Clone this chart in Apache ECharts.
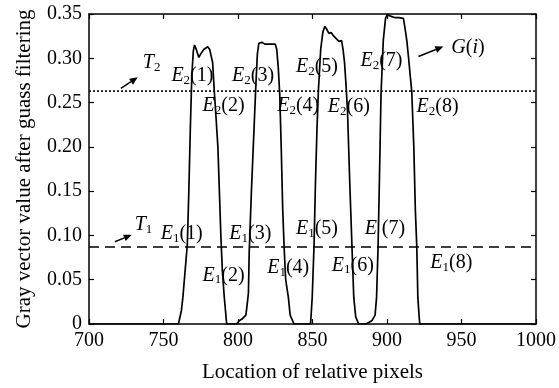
<!DOCTYPE html>
<html>
<head>
<meta charset="utf-8">
<script src="https://cdn.jsdelivr.net/npm/echarts@6/dist/echarts.min.js"></script>
<style>
  html, body { margin: 0; padding: 0; background: #fff; }
  #chart { width: 559px; height: 388px; }
</style>
</head>
<body>
<div id="chart"></div>
<script>
// gray vector G(i) after gauss filtering
const pixelPos = [700, 760, 762, 763, 765, 766, 767, 768, 769, 770, 770.8, 772, 773.7, 775, 777, 779.7, 781, 783, 784, 785, 786.5, 787.5, 788.5, 789.5, 790.8, 792.4,
  799, 801, 803, 805.3, 806, 807, 807.5, 809, 811, 812, 813, 814, 816, 818, 822, 825, 826, 827, 828, 829, 830, 831, 832, 833.8, 835, 837.6,
  848.7, 849.8, 851, 852, 853, 854, 855.5, 857, 858.3, 859.5, 861, 862.5, 864.3, 865.5, 867.7, 869.5, 870.5, 871.5, 872.5, 873.5, 875, 876.5, 877.7, 879, 881,
  886, 890, 892, 893, 894, 895, 896, 897.5, 899, 900, 901, 905, 908, 911, 912, 913.3, 914.5, 915.6, 916.6, 918, 919, 920, 920.7, 921.5, 922, 1000];
const grayValue = [0, 0, 0.015, 0.03, 0.07, 0.09, 0.15, 0.22, 0.28, 0.308, 0.315, 0.31, 0.301, 0.305, 0.31, 0.313, 0.31, 0.295, 0.265, 0.24, 0.2, 0.15, 0.1, 0.06, 0.03, 0,
  0, 0.004, 0.006, 0.01, 0.02, 0.035, 0.08, 0.15, 0.23, 0.27, 0.305, 0.317, 0.318, 0.316, 0.316, 0.316, 0.31, 0.29, 0.26, 0.2, 0.13, 0.085, 0.05, 0.03, 0.01, 0,
  0, 0.03, 0.087, 0.16, 0.22, 0.265, 0.31, 0.33, 0.336, 0.333, 0.328, 0.329, 0.325, 0.326, 0.319, 0.32, 0.31, 0.295, 0.27, 0.24, 0.16, 0.087, 0.03, 0.008, 0,
  0, 0.004, 0.01, 0.03, 0.087, 0.17, 0.26, 0.32, 0.345, 0.349, 0.347, 0.346, 0.346, 0.345, 0.335, 0.32, 0.3, 0.28, 0.263, 0.2, 0.13, 0.087, 0.03, 0.01, 0, 0];

const thresholdT1 = 0.087;
const thresholdT2 = 0.263;

// text annotations: [x, y, main letter, subscript, suffix]
const notes = [
  [736.1, 0.295, 'T', '2', ''],
  [755.3, 0.280, 'E', '2', '(1)'],
  [796.0, 0.280, 'E', '2', '(3)'],
  [776.2, 0.246, 'E', '2', '(2)'],
  [826.3, 0.246, 'E', '2', '(4)'],
  [838.9, 0.290, 'E', '2', '(5)'],
  [882.2, 0.297, 'E', '2', '(7)'],
  [860.3, 0.245, 'E', '2', '(6)'],
  [919.8, 0.245, 'E', '2', '(8)'],
  [943.2, 0.312, 'G', '', '(i)'],
  [730.7, 0.112, 'T', '1', ''],
  [748.1, 0.102, 'E', '1', '(1)'],
  [794.2, 0.102, 'E', '1', '(3)'],
  [776.2, 0.055, 'E', '1', '(2)'],
  [819.6, 0.063, 'E', '1', '(4)'],
  [838.9, 0.107, 'E', '1', '(5)'],
  [885.0, 0.107, 'E', '', ' (7)'],
  [863.0, 0.066, 'E', '1', '(6)'],
  [929.1, 0.069, 'E', '1', '(8)']
];

// arrows: [x0, y0, x1, y1]
const arrows = [
  [721.4, 0.266, 732.7, 0.2785],
  [921.1, 0.302, 937.8, 0.3132],
  [717.4, 0.0928, 728.7, 0.1007]
];

const font = 'Liberation Serif';
const chart = echarts.init(document.getElementById('chart'));

const axisX = (pos, show) => ({
  type: 'value',
  position: pos,
  min: 700,
  max: 1000,
  interval: 50,
  axisLine: { show: true, onZero: false, lineStyle: { color: '#000', width: 1.5 } },
  axisTick: { inside: true, length: 5, lineStyle: { color: '#000', width: 1.2 } },
  axisLabel: { show: show, color: '#000', fontFamily: font, fontSize: 20, margin: 7, formatter: (v) => String(v) },
  splitLine: { show: false }
});
const axisY = (pos, show) => ({
  type: 'value',
  position: pos,
  min: 0,
  max: 0.35,
  interval: 0.05,
  axisLine: { show: true, onZero: false, lineStyle: { color: '#000', width: 1.5 } },
  axisTick: { inside: true, length: 5, lineStyle: { color: '#000', width: 1.2 } },
  axisLabel: {
    show: show, color: '#000', fontFamily: font, fontSize: 20, margin: 7,
    formatter: (v) => (v === 0 ? '0' : v.toFixed(2))
  },
  splitLine: { show: false }
});

const xBottom = axisX('bottom', true);
xBottom.name = 'Location of relative pixels';
xBottom.nameLocation = 'middle';
xBottom.nameGap = 38;
xBottom.nameTextStyle = { color: '#000', fontFamily: font, fontSize: 21 };
const xTop = axisX('top', false);

const yLeft = axisY('left', true);
yLeft.name = 'Gray vector value after guass filtering';
yLeft.nameLocation = 'middle';
yLeft.nameGap = 54;
yLeft.nameTextStyle = { color: '#000', fontFamily: font, fontSize: 21 };
const yRight = axisY('right', false);

chart.setOption({
  animation: false,
  backgroundColor: '#fff',
  grid: { left: 89, right: 21, top: 14, bottom: 61 },
  xAxis: [xBottom, xTop],
  yAxis: [yLeft, yRight],
  series: [
    {
      type: 'line',
      data: pixelPos.map((x, i) => [x, grayValue[i]]),
      showSymbol: false,
      lineStyle: { color: '#000', width: 1.7 },
      z: 3
    },
    {
      type: 'line',
      data: [[700, thresholdT2], [1000, thresholdT2]],
      showSymbol: false,
      lineStyle: { color: '#000', width: 1.6, type: [2, 2] },
      z: 2
    },
    {
      type: 'line',
      data: [[700, thresholdT1], [1000, thresholdT1]],
      showSymbol: false,
      lineStyle: { color: '#000', width: 1.4, type: [10, 6] },
      z: 2
    }
  ]
});

const graphics = [];
notes.forEach(([x, y, main, sub, rest]) => {
  const p = chart.convertToPixel({ gridIndex: 0 }, [x, y]);
  let txt = '{m|' + main + '}';
  if (sub) txt += '{s|' + sub + '}';
  if (rest === '(i)') txt += '{n|(}{m|i}{n|)}';
  else if (rest) txt += '{n|' + rest + '}';
  graphics.push({
    type: 'text',
    x: p[0],
    y: p[1],
    z: 10,
    style: {
      text: txt,
      verticalAlign: 'middle',
      align: 'left',
      rich: {
        m: { fontFamily: font, fontSize: 20, fontStyle: 'italic', fill: '#000', lineHeight: 22, verticalAlign: 'middle' },
        n: { fontFamily: font, fontSize: 20, fill: '#000', lineHeight: 22, verticalAlign: 'middle' },
        s: { fontFamily: font, fontSize: 13, fill: '#000', lineHeight: 22, verticalAlign: 'bottom' }
      }
    }
  });
});
arrows.forEach(([x0, y0, x1, y1]) => {
  const a = chart.convertToPixel({ gridIndex: 0 }, [x0, y0]);
  const b = chart.convertToPixel({ gridIndex: 0 }, [x1, y1]);
  const dx = b[0] - a[0], dy = b[1] - a[1];
  const len = Math.sqrt(dx * dx + dy * dy);
  const ux = dx / len, uy = dy / len;
  const hl = 8, hw = 3.5;
  const base = [b[0] - ux * hl, b[1] - uy * hl];
  graphics.push({
    type: 'line',
    z: 10,
    shape: { x1: a[0], y1: a[1], x2: base[0], y2: base[1] },
    style: { stroke: '#000', lineWidth: 1.5 }
  });
  graphics.push({
    type: 'polygon',
    z: 10,
    shape: { points: [b, [base[0] - uy * hw, base[1] + ux * hw], [base[0] + uy * hw, base[1] - ux * hw]] },
    style: { fill: '#000' }
  });
});
chart.setOption({ graphic: graphics });
</script>
</body>
</html>
